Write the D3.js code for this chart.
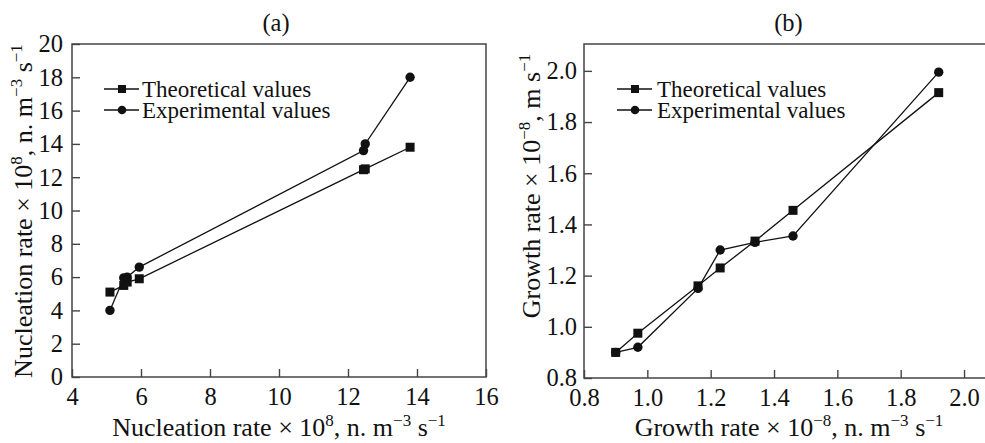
<!DOCTYPE html>
<html><head><meta charset="utf-8">
<script src="https://cdn.jsdelivr.net/npm/d3@7"></script>
<style>body{margin:0;background:#fff}svg{display:block}text{font-family:"Liberation Serif","Times New Roman",serif;fill:#111}</style>
</head><body><svg id="c" width="985" height="443"></svg>
<script>
// Panel (a) data
const aTheoX = [5.1, 5.5, 5.6, 5.95, 12.45, 12.5, 13.8];
const aTheoY = [5.1, 5.5, 5.7, 5.9, 12.45, 12.5, 13.8];
const aExpX  = [5.1, 5.5, 5.6, 5.95, 12.45, 12.5, 13.8];
const aExpY  = [4.0, 5.95, 6.0, 6.6, 13.6, 14.0, 18.0];
const aXTicks = [4, 6, 8, 10, 12, 14, 16];
const aYTicks = [0, 2, 4, 6, 8, 10, 12, 14, 16, 18, 20];
// Panel (b) data
const bTheoX = [0.90, 0.97, 1.16, 1.23, 1.34, 1.46, 1.92];
const bTheoY = [0.90, 0.975, 1.16, 1.23, 1.335, 1.455, 1.915];
const bExpX  = [0.90, 0.97, 1.16, 1.23, 1.34, 1.46, 1.92];
const bExpY  = [0.90, 0.92, 1.15, 1.30, 1.33, 1.355, 1.995];
const bXTicks = [0.8, 1.0, 1.2, 1.4, 1.6, 1.8, 2.0];
const bYTicks = [0.8, 1.0, 1.2, 1.4, 1.6, 1.8, 2.0];
const legendLabels = ["Theoretical values", "Experimental values"];

const svg = d3.select("#c");
const FS = 24.5, LFS = 26, SUP = 17;

function panel(o){
  const g = svg.append("g");
  const x = d3.scaleLinear().domain(o.xd).range([o.l, o.r]);
  const y = d3.scaleLinear().domain(o.yd).range([o.b, o.t]);
  g.append("rect").attr("x", o.l).attr("y", o.t).attr("width", o.r - o.l).attr("height", o.b - o.t)
    .attr("fill", "none").attr("stroke", "#444").attr("stroke-width", 1.5);
  const xa = g.append("g").attr("transform", `translate(0,${o.b})`)
    .call(d3.axisBottom(x).tickValues(o.xt).tickSize(-8).tickPadding(11).tickFormat(o.xf));
  const ya = g.append("g").attr("transform", `translate(${o.l},0)`)
    .call(d3.axisLeft(y).tickValues(o.yt).tickSize(-8).tickPadding(o.ypad).tickFormat(o.yf));
  [xa, ya].forEach(a => {
    a.select(".domain").remove();
    a.selectAll("line").attr("stroke", "#444").attr("stroke-width", 1.4);
    a.selectAll("text").style("font-family", '"Liberation Serif",serif').style("font-size", FS + "px").attr("fill", "#111");
  });
  xa.selectAll("text").attr("dy", "0.71em");
  g.append("text").attr("x", (o.l + o.r) / 2 + o.titleDx).attr("y", 31).attr("text-anchor", "middle")
    .style("font-size", FS + "px").text(o.title);
  const line = d3.line().x(d => x(d[0])).y(d => y(d[1]));
  const theo = o.tx.map((v, i) => [v, o.ty[i]]);
  const exp = o.ex.map((v, i) => [v, o.ey[i]]);
  [theo, exp].forEach(s => g.append("path").attr("d", line(s)).attr("fill", "none").attr("stroke", "#111").attr("stroke-width", 1.3));
  g.selectAll(".sq").data(theo).enter().append("rect")
    .attr("x", d => x(d[0]) - 4.5).attr("y", d => y(d[1]) - 4.5).attr("width", 9).attr("height", 9).attr("fill", "#111");
  g.selectAll(".ci").data(exp).enter().append("circle")
    .attr("cx", d => x(d[0])).attr("cy", d => y(d[1])).attr("r", 4.7).attr("fill", "#111");
  legendLabels.forEach((lab, i) => {
    const ly = o.legY + i * 21;
    g.append("line").attr("x1", o.legX).attr("x2", o.legX + 35).attr("y1", ly).attr("y2", ly).attr("stroke", "#111").attr("stroke-width", 1.3);
    if (i === 0) g.append("rect").attr("x", o.legX + 18 - 4).attr("y", ly - 4).attr("width", 8).attr("height", 8).attr("fill", "#111");
    else g.append("circle").attr("cx", o.legX + 18).attr("cy", ly).attr("r", 4.3).attr("fill", "#111");
    g.append("text").attr("x", o.legX + o.legGap).attr("y", ly + 8).style("font-size", "23px").text(lab);
  });
  const xl = g.append("text").attr("x", o.xlx).attr("y", 436).attr("text-anchor", "middle").style("font-size", LFS + "px");
  o.xlab.forEach(p => xl.append("tspan").attr("dy", p[1]).style("font-size", p[2] ? SUP + "px" : null).text(p[0]));
  const yl = g.append("text").attr("transform", `translate(${o.ylx},${o.yly}) rotate(-90)`).attr("text-anchor", "middle").style("font-size", LFS + "px");
  o.ylab.forEach(p => yl.append("tspan").attr("dy", p[1]).style("font-size", p[2] ? SUP + "px" : null).text(p[0]));
}

// label pieces: [text, dy, isSuperscript]
panel({
  l: 72, r: 486, t: 44, b: 377, xd: [4, 16], yd: [0, 20], xt: aXTicks, yt: aYTicks, ypad: 9,
  xf: d3.format("d"), yf: d3.format("d"), title: "(a)", titleDx: -3,
  tx: aTheoX, ty: aTheoY, ex: aExpX, ey: aExpY, legX: 104, legY: 89, legGap: 38,
  xlx: 279, xlab: [["Nucleation rate × 10", 0], ["8", -10, 1], [", n. m", 10], ["−3", -10, 1], [" s", 10], ["−1", -10, 1]],
  ylx: 32, yly: 211, ylab: [["Nucleation rate × 10", 0], ["8", -10, 1], [", n. m", 10], ["−3", -10, 1], [" s", 10], ["−1", -10, 1]]
});
panel({
  l: 584, r: 987, t: 44, b: 378, xd: [0.8, 0.8 + (987 - 584) / 316.7], yd: [0.8, 2.105], xt: bXTicks, yt: bYTicks, ypad: 7,
  xf: d3.format(".1f"), yf: d3.format(".1f"), title: "(b)", titleDx: 3,
  tx: bTheoX, ty: bTheoY, ex: bExpX, ey: bExpY, legX: 617, legY: 89, legGap: 40,
  xlx: 789, xlab: [["Growth rate × 10", 0], ["−8", -10, 1], [", n. m", 10], ["−3", -10, 1], [" s", 10], ["−1", -10, 1]],
  ylx: 540, yly: 186, ylab: [["Growth rate × 10", 0], ["−8", -10, 1], [", m s", 10], ["−1", -10, 1]]
});
</script></body></html>
